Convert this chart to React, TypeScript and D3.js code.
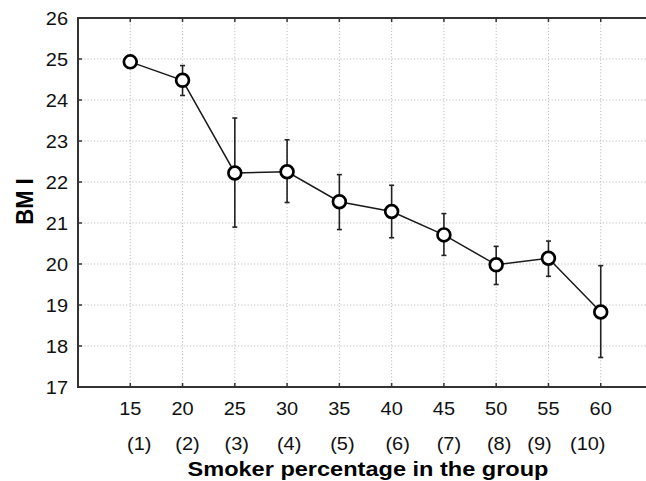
import React from "react";
import * as d3 from "d3";

// smoker percentage per group, mean BMI and the error bar ends
const smokerPct = [15, 20, 25, 30, 35, 40, 45, 50, 55, 60];
const groupLabels = ["(1)", "(2)", "(3)", "(4)", "(5)", "(6)", "(7)", "(8)", "(9)", "(10)"];
const bmiMean = [24.93, 24.48, 22.22, 22.25, 21.52, 21.28, 20.71, 19.98, 20.14, 18.83];
const bmiUpper = [null, 24.84, 23.56, 23.03, 22.18, 21.92, 21.23, 20.43, 20.56, 19.96];
const bmiLower = [null, 24.11, 20.9, 21.5, 20.84, 20.64, 20.21, 19.5, 19.7, 17.72];
const yTicks = [17, 18, 19, 20, 21, 22, 23, 24, 25, 26];

// the group labels were typed as one spaced string, so they sit a little off the ticks
const groupNudge = [9, 5, 2, 2, 3, 6, 5, 3, -9, -13];

const W = 646;
const H = 481;
const margin = { top: 18, right: -7, bottom: 94, left: 78 };
const font = "'Liberation Sans', Arial, sans-serif";
const stretch = 1.08; // the source image is a bit wider than tall

export default function App() {
  const x = d3
    .scaleLinear()
    .domain([10, 65])
    .range([margin.left, W - margin.right]);
  const y = d3
    .scaleLinear()
    .domain([17, 26])
    .range([H - margin.bottom, margin.top]);

  const points = smokerPct.map((p, i) => ({
    p,
    m: bmiMean[i],
    hi: bmiUpper[i],
    lo: bmiLower[i],
  }));
  const line = d3
    .line<{ p: number; m: number }>()
    .x((d) => x(d.p))
    .y((d) => y(d.m));

  const x0 = margin.left;
  const x1 = W - margin.right;
  const y0 = H - margin.bottom;
  const y1 = margin.top;

  const label = (key: string, tx: number, ty: number, s: string, anchor: string) => (
    <text key={key} transform={`translate(${tx},${ty}) scale(${stretch},1)`} textAnchor={anchor}>
      {s}
    </text>
  );

  return (
    <div style={{ position: "fixed", left: 0, top: 0 }}>
      <svg width={W} height={H} style={{ display: "block", background: "#fff" }}>
        {/* grid */}
        <g stroke="#bdbdbd" strokeWidth={1} strokeDasharray="1.2 2">
          {smokerPct.map((p) => (
            <line key={"gx" + p} x1={x(p)} x2={x(p)} y1={y1} y2={y0} />
          ))}
          {yTicks.slice(1, -1).map((t) => (
            <line key={"gy" + t} x1={x0} x2={x1} y1={y(t)} y2={y(t)} />
          ))}
        </g>

        {/* frame and ticks */}
        <g stroke="#333" strokeWidth={2}>
          <line x1={x0} x2={x0} y1={y1} y2={y0} />
          <line x1={x0 - 1} x2={x1} y1={y0} y2={y0} />
          <line x1={x0 - 1} x2={x1} y1={y1} y2={y1} />
        </g>
        <g stroke="#333" strokeWidth={1.5}>
          {smokerPct.map((p) => (
            <React.Fragment key={"tx" + p}>
              <line x1={x(p)} x2={x(p)} y1={y0} y2={y0 - 4} />
              <line x1={x(p)} x2={x(p)} y1={y1} y2={y1 + 4} />
            </React.Fragment>
          ))}
          {yTicks.map((t) => (
            <line key={"ty" + t} x1={x0} x2={x0 + 4} y1={y(t)} y2={y(t)} />
          ))}
        </g>

        {/* tick labels */}
        <g fontFamily={font} fontSize={18.5} fill="#111">
          {yTicks.map((t) => label("ly" + t, x0 - 10, y(t) + 7, String(t), "end"))}
          {smokerPct.map((p) => label("lx" + p, x(p), y0 + 28, String(p), "middle"))}
          {groupLabels.map((g, i) =>
            label("lg" + g, x(smokerPct[i]) + groupNudge[i], y0 + 63, g, "middle")
          )}
        </g>

        {/* axis titles */}
        <text
          x={368}
          y={476}
          textAnchor="middle"
          fontFamily={font}
          fontWeight="bold"
          fontSize={21}
          textLength={361}
          lengthAdjust="spacingAndGlyphs"
          fill="#000"
        >
          Smoker percentage in the group
        </text>
        <text
          transform={`translate(32.5,${(y0 + y1) / 2 - 1}) scale(1.12,1) rotate(-90)`}
          textAnchor="middle"
          fontFamily={font}
          fontWeight="bold"
          fontSize={22}
          fill="#000"
        >
          BM I
        </text>

        {/* error bars */}
        <g stroke="#222" strokeWidth={1.6}>
          {points
            .filter((d) => d.hi !== null && d.lo !== null)
            .map((d) => (
              <g key={"e" + d.p}>
                <line x1={x(d.p)} x2={x(d.p)} y1={y(d.hi as number)} y2={y(d.lo as number)} />
                <line x1={x(d.p) - 2.5} x2={x(d.p) + 2.5} y1={y(d.hi as number)} y2={y(d.hi as number)} />
                <line x1={x(d.p) - 2.5} x2={x(d.p) + 2.5} y1={y(d.lo as number)} y2={y(d.lo as number)} />
              </g>
            ))}
        </g>

        {/* mean line and markers */}
        <path d={line(points) ?? ""} fill="none" stroke="#1a1a1a" strokeWidth={1.5} />
        {points.map((d) => (
          <circle
            key={"c" + d.p}
            cx={x(d.p)}
            cy={y(d.m)}
            r={6.4}
            fill="#fff"
            stroke="#000"
            strokeWidth={2.7}
          />
        ))}
      </svg>
    </div>
  );
}
